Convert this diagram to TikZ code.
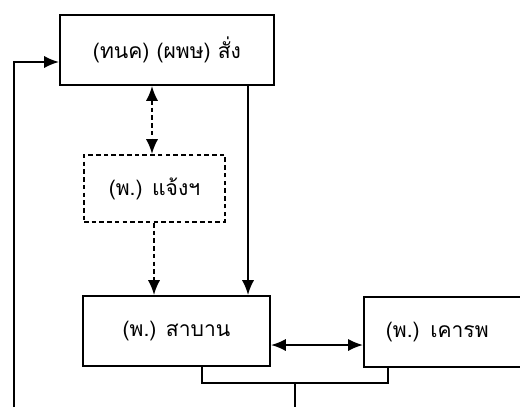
\documentclass[tikz,border=0pt]{standalone}
\usepackage{fontspec}
\newfontfamily\thaifont[Script=Thai]{Loma}
\usetikzlibrary{arrows.meta}
\tikzset{
  box/.style={draw,line width=1.1pt,inner sep=0pt,font=\thaifont\fontsize{12}{14}\selectfont},
  dbox/.style={box,dash pattern=on 2.6pt off 1.8pt},
  dline/.style={line width=1.1pt,dash pattern=on 2.6pt off 1.8pt}
}
\begin{document}
\begin{tikzpicture}[>={Latex[length=8.5pt,width=7pt]},x=0.02cm,y=0.02cm,line width=1.1pt]
		\def\u{0.02cm}
		\clip (0,0) rectangle (520,407);
		\node[box,minimum width=214*\u,minimum height=70*\u] (ps) at (167,357) {(ทนค) (ผพษ) สั่ง};
		\node[dbox,minimum width=141*\u,minimum height=67*\u] (nt) at (154.5,218.5) {(พ.) แจ้งฯ};
		\node[box,minimum width=187*\u,minimum height=70*\u] (sb) at (176.5,76) {(พ.) สาบาน};
		\node[box,anchor=west,minimum height=70*\u,text width=146*\u,inner xsep=22*\u,align=left] (kr) at (363,75) {(พ.) เคารพ};
		\coordinate (a) at (152,0);
		\coordinate (b) at (154,0);
		\coordinate (r) at (248,0);
		\coordinate (m) at (0,62);
		\coordinate (sl) at (202,24);
		\coordinate (sr) at (388,24);
		\coordinate (dn) at (295,24);
		\coordinate (lp) at (14,345);
		\draw[dline,<->] (ps.south -| a) -- (nt.north -| a);
		\draw[dline,->] (nt.south -| b) -- (sb.north -| b);
		\draw[->] (ps.south -| r) -- (sb.north -| r);
		\draw[<->] (sb.east |- m) -- (kr.west |- m);
		\draw (sb.south -| sl) -- (sl) -- (sr) -- (kr.south -| sr);
		\draw (dn) -- (dn |- 0,0);
		\draw[->] (lp |- 0,0) -- (lp) -- (ps.west |- lp);
\end{tikzpicture}
\end{document}
